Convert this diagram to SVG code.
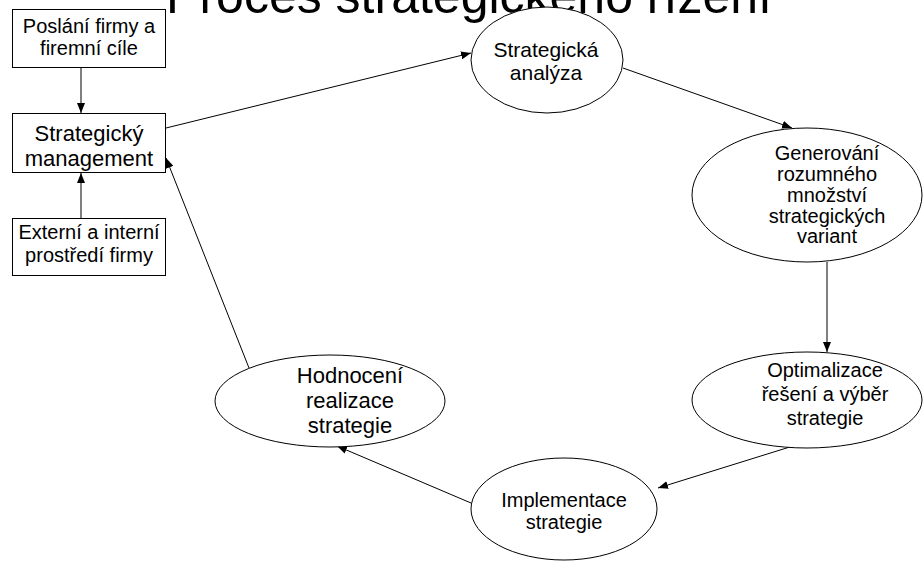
<svg xmlns="http://www.w3.org/2000/svg" width="924" height="561" viewBox="0 0 924 561">
  <style>
    text { font-family: "Liberation Sans", Arial, sans-serif; fill: #000; text-anchor: middle; }
    .box { fill: #fff; stroke: #000; stroke-width: 1; }
    .oval { fill: #fff; stroke: #000; stroke-width: 1; }
    .link { fill: none; stroke: #000; stroke-width: 1; marker-end: url(#arrow); }
    .t20 { font-size: 20px; }
    .t21 { font-size: 21px; }
    .t22 { font-size: 22px; }
  </style>
  <defs>
    <marker id="arrow" markerUnits="userSpaceOnUse" markerWidth="10" markerHeight="8" refX="10" refY="4" orient="auto">
      <path d="M0,0 L10,4 L0,8 z" fill="#000"/>
    </marker>
  </defs>
  <rect width="924" height="561" fill="#fff"/>

  <!-- title, partly above the top edge -->
  <text id="title" x="469" y="13" font-size="50">Proces strategického řízení</text>

  <!-- connectors -->
  <g id="connectors">
    <line class="link" x1="81" y1="68" x2="81" y2="113"/>
    <line class="link" x1="81" y1="218" x2="81" y2="173"/>
    <line class="link" x1="166" y1="128" x2="471" y2="53"/>
    <line class="link" x1="623" y1="68" x2="792" y2="128"/>
    <line class="link" x1="827" y1="262" x2="827" y2="352"/>
    <line class="link" x1="793" y1="446" x2="658" y2="488"/>
    <line class="link" x1="471" y1="503" x2="337" y2="446"/>
    <line class="link" x1="249" y1="368" x2="166" y2="158"/>
  </g>

  <!-- rectangles -->
  <g id="poslani">
    <rect class="box" x="12.5" y="9.5" width="153" height="58"/>
    <text class="t20" x="89" y="33">Poslání firmy a</text>
    <text class="t20" x="89" y="55">firemní cíle</text>
  </g>
  <g id="management">
    <rect class="box" x="12.5" y="113.5" width="153" height="59"/>
    <text class="t22" x="89" y="141">Strategický</text>
    <text class="t22" x="89" y="165.5">management</text>
  </g>
  <g id="prostredi">
    <rect class="box" x="12.5" y="218.5" width="153" height="57"/>
    <text class="t20" x="89" y="239">Externí a interní</text>
    <text class="t20" x="89" y="262">prostředí firmy</text>
  </g>

  <!-- process ellipses -->
  <g id="analyza">
    <ellipse class="oval" cx="547" cy="60" rx="76" ry="53"/>
    <text class="t21" x="546" y="57">Strategická</text>
    <text class="t21" x="546" y="80">analýza</text>
  </g>
  <g id="generovani">
    <ellipse class="oval" cx="807" cy="195" rx="115" ry="67"/>
    <text class="t20" x="827" y="160">Generování</text>
    <text class="t20" x="827" y="181">rozumného</text>
    <text class="t20" x="827" y="202">množství</text>
    <text class="t20" x="827" y="223">strategických</text>
    <text class="t20" x="827" y="243">variant</text>
  </g>
  <g id="optimalizace">
    <ellipse class="oval" cx="807" cy="400" rx="115" ry="48"/>
    <text class="t20" x="825" y="377">Optimalizace</text>
    <text class="t20" x="825" y="401">řešení a výběr</text>
    <text class="t20" x="825" y="425">strategie</text>
  </g>
  <g id="implementace">
    <ellipse class="oval" cx="564" cy="509" rx="93" ry="51"/>
    <text class="t20" x="564" y="507">Implementace</text>
    <text class="t20" x="564" y="529">strategie</text>
  </g>
  <g id="hodnoceni">
    <ellipse class="oval" cx="330" cy="401" rx="115" ry="46"/>
    <text class="t22" x="350" y="383">Hodnocení</text>
    <text class="t22" x="350" y="408">realizace</text>
    <text class="t22" x="350" y="433">strategie</text>
  </g>
</svg>
